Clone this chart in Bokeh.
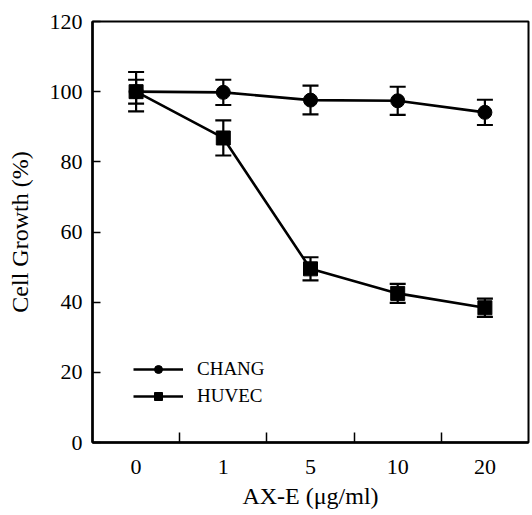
from bokeh.plotting import figure
from bokeh.models import (FixedTicker, Whisker, TeeHead, ColumnDataSource, Legend, LegendItem, Range1d)
from bokeh.embed import file_html
from bokeh.resources import INLINE

categories = ["0", "1", "5", "10", "20"]
chang = [100.0, 99.8, 97.6, 97.4, 94.1]
chang_err = [3.4, 3.6, 4.1, 4.0, 3.6]
huvec = [100.0, 86.8, 49.5, 42.5, 38.4]
huvec_err = [5.6, 5.0, 3.3, 2.7, 2.6]
y_ticks = [0, 20, 40, 60, 80, 100, 120]

xs = list(range(len(categories)))
FONT = "Liberation Serif"

p = figure(width=530, height=513, output_backend="svg", toolbar_location=None,
           x_range=Range1d(-0.5, 4.5), y_range=Range1d(0, 120),
           min_border_left=92, min_border_right=2, min_border_top=21, min_border_bottom=71)
p.grid.visible = False
p.background_fill_color = "white"
p.border_fill_color = "white"
p.outline_line_color = "black"
p.outline_line_width = 2

src_c = ColumnDataSource(dict(x=xs, y=chang, lo=[v - e for v, e in zip(chang, chang_err)],
                              hi=[v + e for v, e in zip(chang, chang_err)]))
src_h = ColumnDataSource(dict(x=xs, y=huvec, lo=[v - e for v, e in zip(huvec, huvec_err)],
                              hi=[v + e for v, e in zip(huvec, huvec_err)]))

for src in (src_c, src_h):
    w = Whisker(source=src, base="x", upper="hi", lower="lo", line_color="black", line_width=2.2,
                upper_head=TeeHead(size=16, line_width=2.2, line_color="black"),
                lower_head=TeeHead(size=16, line_width=2.2, line_color="black"))
    p.add_layout(w)

lc = p.line("x", "y", source=src_c, line_color="black", line_width=2.6)
sc = p.scatter("x", "y", source=src_c, marker="circle", size=14, fill_color="black", line_color="black")
lh = p.line("x", "y", source=src_h, line_color="black", line_width=2.6)
sh = p.scatter("x", "y", source=src_h, marker="square", size=14, fill_color="black", line_color="black")

# x axis
xa = p.xaxis[0]
xa.ticker = FixedTicker(ticks=xs, minor_ticks=[i + 0.5 for i in xs[:-1]])
xa.major_label_overrides = {i: c for i, c in zip(xs, categories)}
xa.major_tick_in = 0
xa.major_tick_out = 0
xa.minor_tick_in = 10
xa.minor_tick_out = 0
xa.minor_tick_line_width = 1.5
xa.axis_line_width = 2.5
xa.major_label_standoff = 17
xa.major_label_text_font = FONT
xa.major_label_text_font_size = "22px"
xa.major_label_text_color = "black"
xa.axis_label = "AX-E (μg/ml)"
xa.axis_label_text_font = FONT
xa.axis_label_text_font_style = "normal"
xa.axis_label_text_font_size = "24px"
xa.axis_label_text_color = "black"
xa.axis_label_standoff = 6

# y axis
ya = p.yaxis[0]
ya.ticker = FixedTicker(ticks=y_ticks, minor_ticks=[])
ya.major_tick_in = 8
ya.major_tick_out = 0
ya.major_tick_line_width = 1.5
ya.axis_line_width = 2.5
ya.major_label_standoff = 10
ya.major_label_text_font = FONT
ya.major_label_text_font_size = "22px"
ya.major_label_text_color = "black"
ya.axis_label = "Cell Growth (%)"
ya.axis_label_text_font = FONT
ya.axis_label_text_font_style = "normal"
ya.axis_label_text_font_size = "24px"
ya.axis_label_text_color = "black"
ya.axis_label_standoff = 14

legend = Legend(items=[LegendItem(label="CHANG", renderers=[lc, sc]),
                       LegendItem(label="HUVEC", renderers=[lh, sh])],
                location=(41, 35), padding=0, margin=0, spacing=5,
                glyph_width=50, glyph_height=20, label_height=20, label_standoff=14,
                label_text_font=FONT, label_text_font_size="19px", label_text_color="black",
                border_line_color=None, background_fill_alpha=0)
p.add_layout(legend)

open("out.html", "w").write(file_html(p, INLINE))
